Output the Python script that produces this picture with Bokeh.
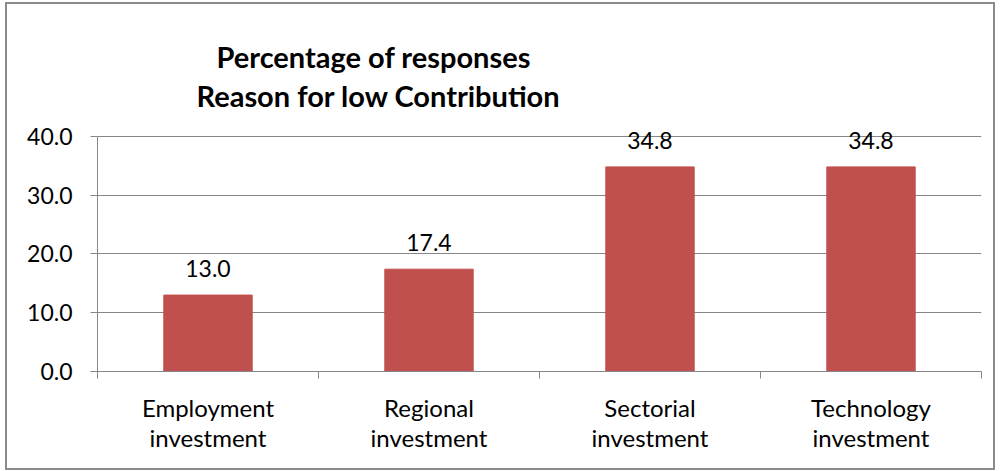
from bokeh.plotting import figure
from bokeh.models import ColumnDataSource, FixedTicker, LabelSet, Title, Range1d, PrintfTickFormatter
from bokeh.core.properties import value
from bokeh.embed import file_html
from bokeh.resources import INLINE

categories = ["Employment\ninvestment", "Regional\ninvestment", "Sectorial\ninvestment", "Technology\ninvestment"]
values = [13.0, 17.4, 34.8, 34.8]
value_labels = ["13.0", "17.4", "34.8", "34.8"]
y_ticks = [0, 10, 20, 30, 40]
title_lines = ["Percentage of responses", "Reason for low Contribution"]

FONT = "Lato"
GRID = "#868686"

xs = [i + 0.5 for i in range(len(categories))]
src = ColumnDataSource(dict(x=xs, top=values, lab=value_labels))

p = figure(width=986, height=464, output_backend="svg", toolbar_location=None, title=None,
           x_range=Range1d(0, len(categories)), y_range=Range1d(0, 41.5),
           min_border_left=90, min_border_right=12, min_border_top=123, min_border_bottom=97,
           margin=(4, 0, 0, 7))
p.styles = {"outline": "2px solid #8a8a8a"}
p.outline_line_color = None
p.background_fill_color = "white"
p.border_fill_color = "white"

p.vbar(x="x", top="top", width=0.4, bottom=0, source=src, color="#C0504D")

p.add_layout(LabelSet(x="x", y="top", text="lab", source=src, text_align="center",
                      text_baseline="alphabetic", y_offset=18, text_font=value(FONT),
                      text_font_size="23px", text_color="black"))

# y axis
p.yaxis.ticker = FixedTicker(ticks=y_ticks)
p.yaxis.bounds = (0, 40)
p.yaxis.formatter = PrintfTickFormatter(format="%.1f")
p.yaxis.axis_line_color = GRID
p.yaxis.major_tick_line_color = GRID
p.yaxis.major_tick_in = 0
p.yaxis.major_tick_out = 7
p.yaxis.minor_tick_line_color = None
p.yaxis.major_label_standoff = 18
p.yaxis.major_label_text_font = FONT
p.yaxis.major_label_text_font_size = "23px"
p.yaxis.major_label_text_color = "black"

# x axis
p.xaxis.ticker = FixedTicker(ticks=xs, minor_ticks=list(range(len(categories) + 1)))
p.xaxis.major_label_overrides = {x: c for x, c in zip(xs, categories)}
p.xaxis.axis_line_color = GRID
p.xaxis.major_tick_line_color = None
p.xaxis.minor_tick_line_color = GRID
p.xaxis.minor_tick_in = 0
p.xaxis.minor_tick_out = 7
p.xaxis.major_label_standoff = 14
p.xaxis.major_label_text_font = FONT
p.xaxis.major_label_text_font_size = "24px"
p.xaxis.major_label_text_line_height = 1.06
p.xaxis.major_label_text_color = "black"

p.xgrid.grid_line_color = None
p.ygrid.ticker = FixedTicker(ticks=y_ticks)
p.ygrid.grid_line_color = GRID

# spacer between title block and plot area
p.add_layout(Title(text=" ", standoff=0, text_font=FONT, text_font_size="9px"), "above")
# titles: added nearest-first
for t, off, so in [(title_lines[1], 99, 3), (title_lines[0], 119, 2)]:
    p.add_layout(Title(text=t, align="left", offset=off, standoff=so, text_font=FONT,
                       text_font_style="bold", text_font_size="29px", text_color="black"), "above")

open("out.html", "w").write(file_html(p, INLINE))
